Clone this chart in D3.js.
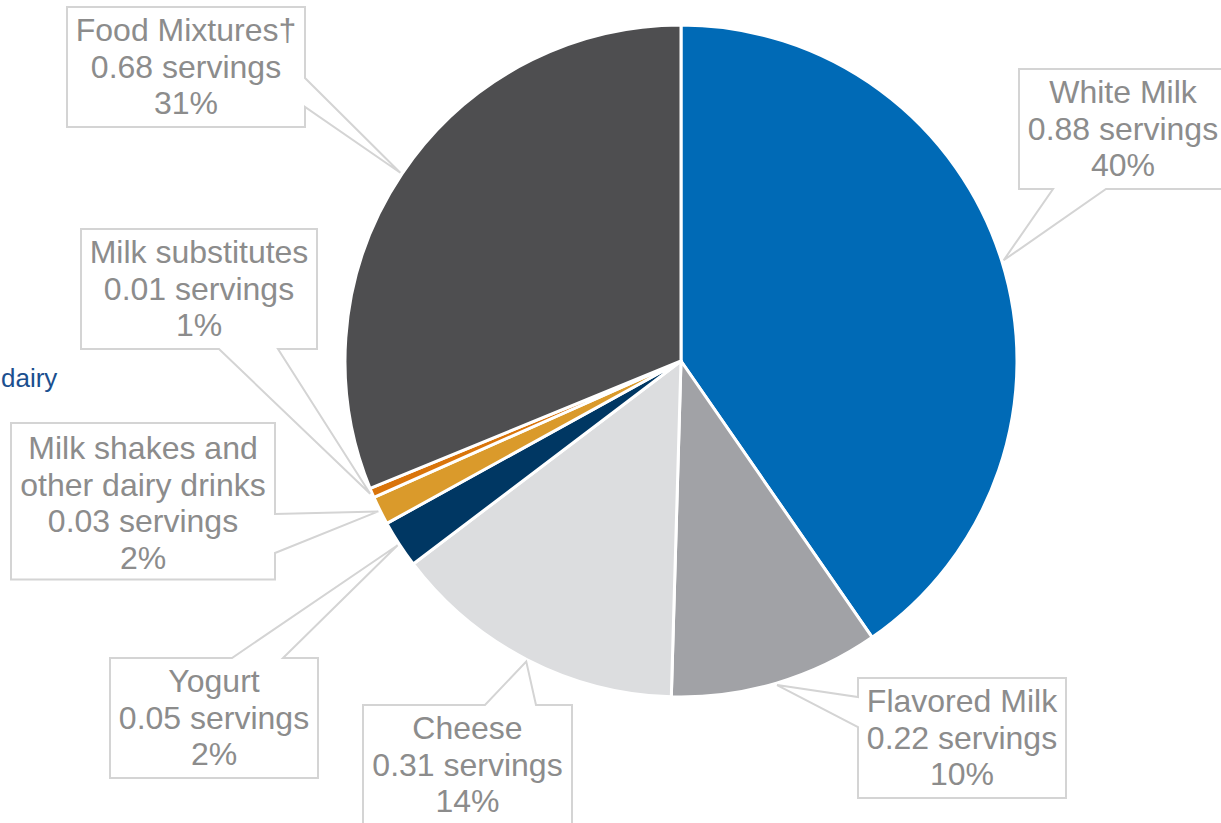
<!DOCTYPE html>
<html>
<head>
<meta charset="utf-8">
<script src="https://cdn.jsdelivr.net/npm/d3@7"></script>
<style>
  html, body { margin: 0; padding: 0; background: #ffffff; overflow: hidden; }
  svg { display: block; }
  text { font-family: Arial, "Liberation Sans", sans-serif; }
</style>
</head>
<body>
<svg id="chart" width="1221" height="823"></svg>
<script>
// Sources of dairy servings
const categories = ["White Milk", "Flavored Milk", "Cheese", "Yogurt",
  "Milk shakes and other dairy drinks", "Milk substitutes", "Food Mixtures†"];
const servings = [0.88, 0.22, 0.31, 0.05, 0.03, 0.01, 0.68];
const percents = [40, 10, 14, 2, 2, 1, 31];
const labelLines = [
  ["White Milk"],
  ["Flavored Milk"],
  ["Cheese"],
  ["Yogurt"],
  ["Milk shakes and", "other dairy drinks"],
  ["Milk substitutes"],
  ["Food Mixtures†"]
];
const colors = ["#006ab6", "#a1a2a6", "#dcdddf", "#003763", "#da9a2b", "#d9740a", "#4e4e50"];

// Callout box placement: box left/top/right, side the pointer leaves from, pointer base span
const callouts = [
  { x0: 1019, y0: 69,  x1: 1227, side: "bottom", b0: 1053, b1: 1106 },
  { x0: 858,  y0: 678, x1: 1066, side: "left",   b0: 697,  b1: 727 },
  { x0: 363,  y0: 705, x1: 572,  side: "top",    b0: 485,  b1: 536 },
  { x0: 110,  y0: 658, x1: 318,  side: "top",    b0: 232,  b1: 283 },
  { x0: 11,   y0: 423, x1: 275,  side: "right",  b0: 514,  b1: 553 },
  { x0: 81,   y0: 229, x1: 317,  side: "bottom", b0: 219,  b1: 278 },
  { x0: 67,   y0: 7,   x1: 305,  side: "right",  b0: 78,   b1: 107 }
];

const data = categories.map((c, i) => ({
  name: c, value: servings[i], pct: percents[i],
  lines: labelLines[i].concat([servings[i].toFixed(2) + " servings", percents[i] + "%"]),
  color: colors[i], box: callouts[i]
}));

const svg = d3.select("#chart");
const cx = 681, cy = 361, R = 336;
const fontFamily = "Arial, 'Liberation Sans', sans-serif";

// heading fragment at the left edge
svg.append("text")
  .attr("x", 1).attr("y", 387)
  .attr("text-anchor", "start")
  .attr("font-family", fontFamily)
  .attr("font-size", 26)
  .attr("fill", "#1b4f8f")
  .text("dairy");

const pie = d3.pie().sort(null).value(d => d.value);
const arcs = pie(data);
const arc = d3.arc().innerRadius(0).outerRadius(R);
const tipArc = d3.arc().innerRadius(338).outerRadius(338);

const g = svg.append("g").attr("transform", `translate(${cx},${cy})`);
g.selectAll("path.slice")
  .data(arcs)
  .join("path")
  .attr("class", "slice")
  .attr("d", arc)
  .attr("fill", d => d.data.color)
  .attr("stroke", "#ffffff")
  .attr("stroke-width", 3)
  .attr("stroke-linejoin", "round");

// Wedge callouts: rectangle whose outline is broken by a pointer reaching the slice
const lineH = 36.5;
function calloutPath(d) {
  const b = d.data.box;
  const h = d.data.lines.length * lineH + 10.5;
  const x0 = b.x0, y0 = b.y0, x1 = b.x1, y1 = b.y0 + h;
  const c = tipArc.centroid(d);
  const tx = cx + c[0], ty = cy + c[1];
  const p = d3.path();
  p.moveTo(x0, y0);
  if (b.side === "top") { p.lineTo(b.b0, y0); p.lineTo(tx, ty); p.lineTo(b.b1, y0); }
  p.lineTo(x1, y0);
  if (b.side === "right") { p.lineTo(x1, b.b0); p.lineTo(tx, ty); p.lineTo(x1, b.b1); }
  p.lineTo(x1, y1);
  if (b.side === "bottom") { p.lineTo(b.b1, y1); p.lineTo(tx, ty); p.lineTo(b.b0, y1); }
  p.lineTo(x0, y1);
  if (b.side === "left") { p.lineTo(x0, b.b1); p.lineTo(tx, ty); p.lineTo(x0, b.b0); }
  p.closePath();
  return p.toString();
}

const labels = svg.append("g").selectAll("g.callout")
  .data(arcs)
  .join("g")
  .attr("class", "callout");

labels.append("path")
  .attr("d", calloutPath)
  .attr("fill", "#ffffff")
  .attr("stroke", "#d4d4d4")
  .attr("stroke-width", 2)
  .attr("stroke-linejoin", "miter");

labels.each(function(d) {
  const b = d.data.box;
  const xc = (b.x0 + b.x1) / 2;
  const firstBase = b.y0 + (d.data.lines.length > 3 ? 36 : 34);
  const t = d3.select(this).append("text")
    .attr("text-anchor", "middle")
    .attr("font-family", fontFamily)
    .attr("font-size", 32)
    .attr("fill", "#8c8c8c");
  d.data.lines.forEach((ln, i) => {
    t.append("tspan").attr("x", xc).attr("y", firstBase + i * lineH).text(ln);
  });
});
</script>
</body>
</html>
